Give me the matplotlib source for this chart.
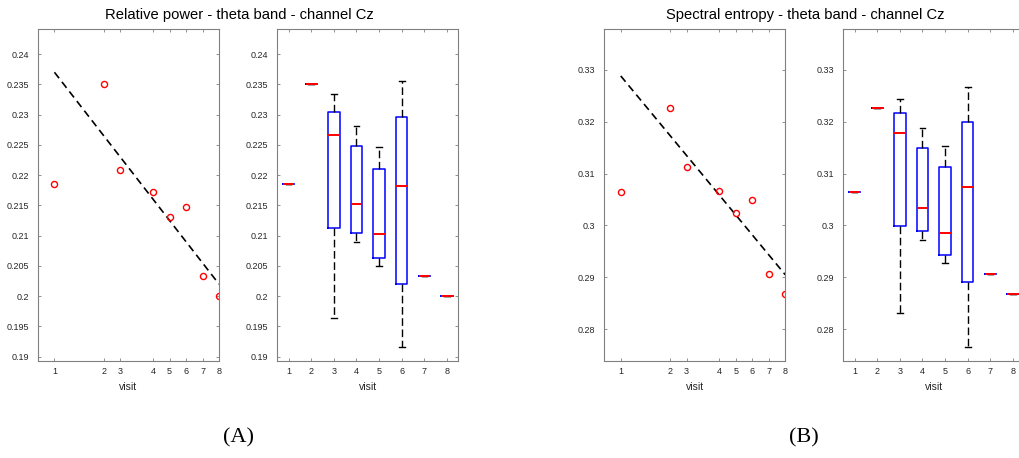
import numpy as np
import matplotlib
matplotlib.use("Agg")
import matplotlib.pyplot as plt

plt.rcParams['font.family'] = ['Liberation Sans', 'DejaVu Sans']

visits = [1, 2, 3, 4, 5, 6, 7, 8]
visit_time = [0, 3, 4, 6, 7, 8, 9, 10]
trend_time = [0, 10]

# relative power - theta band - Cz
rp_mean = [0.2185, 0.2350, 0.2208, 0.2172, 0.2131, 0.2148, 0.2034, 0.2000]
rp_trend = [0.2370, 0.2020]
rp_whislo = [0.2185, 0.2350, 0.1964, 0.2090, 0.2050, 0.1916, 0.2034, 0.2000]
rp_q1 = [0.2185, 0.2350, 0.2112, 0.2105, 0.2063, 0.2021, 0.2034, 0.2000]
rp_med = [0.2185, 0.2350, 0.2266, 0.2152, 0.2102, 0.2182, 0.2034, 0.2000]
rp_q3 = [0.2185, 0.2350, 0.2304, 0.2249, 0.2211, 0.2296, 0.2034, 0.2000]
rp_whishi = [0.2185, 0.2350, 0.2334, 0.2281, 0.2247, 0.2355, 0.2034, 0.2000]

# spectral entropy - theta band - Cz
se_mean = [0.3064, 0.3227, 0.3113, 0.3066, 0.3025, 0.3050, 0.2907, 0.2869]
se_trend = [0.3288, 0.2905]
se_whislo = [0.3064, 0.3227, 0.2832, 0.2973, 0.2928, 0.2766, 0.2907, 0.2869]
se_q1 = [0.3064, 0.3227, 0.2999, 0.2989, 0.2943, 0.2891, 0.2907, 0.2869]
se_med = [0.3064, 0.3227, 0.3179, 0.3034, 0.2985, 0.3075, 0.2907, 0.2869]
se_q3 = [0.3064, 0.3227, 0.3217, 0.3149, 0.3112, 0.3200, 0.2907, 0.2869]
se_whishi = [0.3064, 0.3227, 0.3244, 0.3187, 0.3154, 0.3267, 0.2907, 0.2869]

rp_ticks = [0.19, 0.195, 0.2, 0.205, 0.21, 0.215, 0.22, 0.225, 0.23, 0.235, 0.24]
se_ticks = [0.28, 0.29, 0.3, 0.31, 0.32, 0.33]
rp_ylim = (0.1893, 0.2442)
se_ylim = (0.2739, 0.3379)


def style_axes(ax, yticks, ylim):
    for s in ax.spines.values():
        s.set_color('#808080')
        s.set_linewidth(0.8)
    ax.tick_params(direction='in', length=2.5, width=0.6, color='#808080',
                   labelcolor='#262626', labelsize=6.5, top=True, right=True)
    ax.tick_params(axis='y', pad=6.5)
    ax.tick_params(axis='x', pad=4)
    ax.set_yticks(yticks)
    ax.set_yticklabels(['%g' % t for t in yticks])
    ax.set_ylim(ylim)
    ax.set_xlabel('visit', fontsize=7.5, color='#262626', labelpad=4.5)


def scatter_panel(ax, mean, trend, yticks, ylim):
    ax.plot(trend_time, trend, color='black', lw=1.2, linestyle=(0, (4.5, 2.8)))
    ax.plot(visit_time, mean, 'o', mfc='none', mec='red', ms=4.4, mew=1.0)
    ax.set_xlim(-1, 10)
    ax.set_xticks(visit_time)
    ax.set_xticklabels([str(v) for v in visits])
    style_axes(ax, yticks, ylim)


def box_panel(ax, whislo, q1, med, q3, whishi, yticks, ylim):
    stats = []
    for i in range(len(visits)):
        stats.append(dict(whislo=whislo[i], q1=q1[i], med=med[i], q3=q3[i],
                          whishi=whishi[i], fliers=[]))
    ax.bxp(stats, positions=visits, widths=0.5, capwidths=0.25, showfliers=False,
           boxprops=dict(color='blue', lw=1.1, zorder=2),
           whiskerprops=dict(color='black', lw=1.0, linestyle=(0, (5.5, 2.6)), zorder=2),
           capprops=dict(color='black', lw=1.0, zorder=2),
           medianprops=dict(color='red', lw=1.4, zorder=4))
    ax.set_xlim(0.5, 8.5)
    ax.set_xticks(visits)
    ax.set_xticklabels([str(v) for v in visits])
    style_axes(ax, yticks, ylim)


fig = plt.figure(figsize=(10.19, 4.58), dpi=100)
W, H = 1019.0, 458.0
bottom = (H - 361) / H
height = 332.3 / H
width = 181 / W

ax1 = fig.add_axes([38 / W, bottom, width, height])
ax2 = fig.add_axes([277.3 / W, bottom, width, height])
ax3 = fig.add_axes([604.3 / W, bottom, width, height])
ax4 = fig.add_axes([843.3 / W, bottom, width, height])

scatter_panel(ax1, rp_mean, rp_trend, rp_ticks, rp_ylim)
box_panel(ax2, rp_whislo, rp_q1, rp_med, rp_q3, rp_whishi, rp_ticks, rp_ylim)
scatter_panel(ax3, se_mean, se_trend, se_ticks, se_ylim)
box_panel(ax4, se_whislo, se_q1, se_med, se_q3, se_whishi, se_ticks, se_ylim)

fig.text(239 / W, 1 - 15 / H, 'Relative power - theta band - channel Cz',
         ha='center', va='center', fontsize=10.6)
fig.text(805 / W, 1 - 15 / H, 'Spectral entropy - theta band - channel Cz',
         ha='center', va='center', fontsize=10.6)

fig.text(238 / W, 1 - 438 / H, '(A)', ha='center', va='center', fontsize=16,
         family=['Liberation Serif', 'DejaVu Serif'])
fig.text(804 / W, 1 - 438 / H, '(B)', ha='center', va='center', fontsize=16,
         family=['Liberation Serif', 'DejaVu Serif'])

fig.savefig('out.png', dpi=100)
